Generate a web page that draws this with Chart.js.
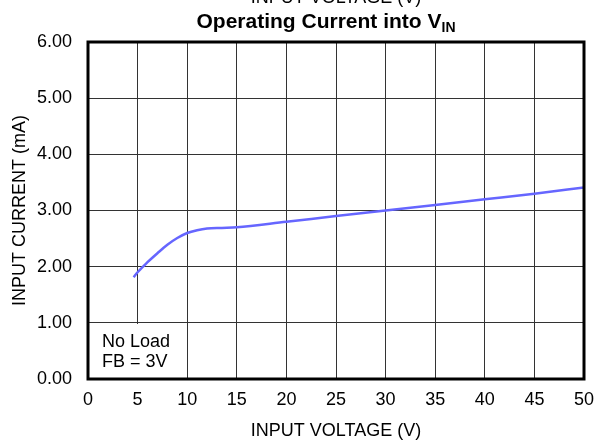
<!DOCTYPE html>
<html lang="en">
<head>
    <meta charset="UTF-8">
    <title>Operating Current into VIN</title>
    <script src="https://cdn.jsdelivr.net/npm/chart.js"></script>
    <style>
        html, body { margin: 0; padding: 0; background: #fff; }
        #wrap { width: 597px; height: 445px; }
    </style>
</head>
<body>
<div id="wrap"><canvas id="currentChart"></canvas></div>
<script>
    // input voltage (V) vs input current (mA)
    var inputVoltage = [4.6, 5, 6, 7, 8, 9, 10, 11, 12, 13.5, 15, 20, 25, 30, 35, 40, 45, 50];
    var inputCurrent = [1.81, 1.90, 2.08, 2.24, 2.39, 2.51, 2.60, 2.65, 2.68, 2.69, 2.70, 2.80, 2.90, 3.00, 3.10, 3.20, 3.30, 3.41];
    var xTicks = [0, 5, 10, 15, 20, 25, 30, 35, 40, 45, 50];
    var yTicks = [0, 1, 2, 3, 4, 5, 6];
    var noteLines = ["No Load", "FB = 3V"];

    var fontFamily = "'Liberation Sans', Arial, sans-serif";

    var points = [];
    for (var i = 0; i < inputVoltage.length; i++) {
        points.push({ x: inputVoltage[i], y: inputCurrent[i] });
    }

    // title with subscript, plus the clipped line above it
    var titlePlugin = {
        id: "titleText",
        afterDraw: function(chart) {
            var ctx = chart.ctx;
            ctx.save();
            ctx.fillStyle = "#000";
            ctx.textBaseline = "alphabetic";
            ctx.font = "18px " + fontFamily;
            ctx.textAlign = "center";
            ctx.fillText("INPUT VOLTAGE (V)", 336, 3);

            ctx.textAlign = "left";
            ctx.font = "bold 21px " + fontFamily;
            var main = "Operating Current into V";
            var w = ctx.measureText(main).width;
            ctx.font = "bold 14px " + fontFamily;
            var ws = ctx.measureText("IN").width;
            var x0 = 326 - (w + ws) / 2;
            ctx.font = "bold 21px " + fontFamily;
            ctx.fillText(main, x0, 28);
            ctx.font = "bold 14px " + fontFamily;
            ctx.fillText("IN", x0 + w, 32);
            ctx.restore();
        }
    };

    // white note box over the grid, then the heavy frame
    var notePlugin = {
        id: "noteBox",
        beforeDatasetsDraw: function(chart) {
            var ctx = chart.ctx;
            var a = chart.chartArea;
            ctx.save();
            ctx.fillStyle = "#fff";
            ctx.fillRect(a.left, 324, 98, a.bottom - 324);
            ctx.fillStyle = "#000";
            ctx.font = "18px " + fontFamily;
            ctx.textAlign = "left";
            ctx.textBaseline = "alphabetic";
            ctx.fillText(noteLines[0], 102, 347);
            ctx.fillText(noteLines[1], 102, 367);
            ctx.restore();
        },
        afterDraw: function(chart) {
            var ctx = chart.ctx;
            var a = chart.chartArea;
            ctx.save();
            ctx.strokeStyle = "#000";
            ctx.lineWidth = 3;
            ctx.strokeRect(a.left, a.top, a.right - a.left, a.bottom - a.top);
            ctx.restore();
        }
    };

    new Chart(document.getElementById("currentChart"), {
        type: "line",
        data: {
            datasets: [{
                data: points,
                borderColor: "#6666ff",
                borderWidth: 2.5,
                pointRadius: 0,
                cubicInterpolationMode: "monotone",
                fill: false
            }]
        },
        options: {
            responsive: true,
            maintainAspectRatio: false,
            animation: false,
            layout: { padding: { top: 42, right: 13, left: 0, bottom: 0 } },
            plugins: {
                legend: { display: false },
                tooltip: { enabled: false }
            },
            scales: {
                x: {
                    type: "linear",
                    min: xTicks[0],
                    max: xTicks[xTicks.length - 1],
                    afterBuildTicks: function(scale) {
                        scale.ticks = xTicks.map(function(v) { return { value: v }; });
                    },
                    afterFit: function(scale) {
                        scale.height = 66;
                        scale.paddingLeft = 0;
                        scale.paddingRight = 0;
                    },
                    grid: { color: "#333", lineWidth: 1, drawTicks: false },
                    border: { display: false },
                    ticks: {
                        color: "#000",
                        padding: 10,
                        maxRotation: 0,
                        font: { family: fontFamily, size: 18 }
                    },
                    title: {
                        display: true,
                        text: "INPUT VOLTAGE (V)",
                        color: "#000",
                        padding: { top: 0, bottom: 3 },
                        font: { family: fontFamily, size: 18 }
                    }
                },
                y: {
                    min: yTicks[0],
                    max: yTicks[yTicks.length - 1],
                    afterBuildTicks: function(scale) {
                        scale.ticks = yTicks.map(function(v) { return { value: v }; });
                    },
                    afterFit: function(scale) { scale.width = 88; },
                    grid: { color: "#333", lineWidth: 1, drawTicks: false },
                    border: { display: false },
                    ticks: {
                        color: "#000",
                        padding: 16,
                        font: { family: fontFamily, size: 18 },
                        callback: function(v) { return Number(v).toFixed(2); }
                    },
                    title: {
                        display: true,
                        text: "INPUT CURRENT (mA)",
                        color: "#000",
                        padding: { top: 9, bottom: 0 },
                        font: { family: fontFamily, size: 18 }
                    }
                }
            }
        },
        plugins: [titlePlugin, notePlugin]
    });
</script>
</body>
</html>
